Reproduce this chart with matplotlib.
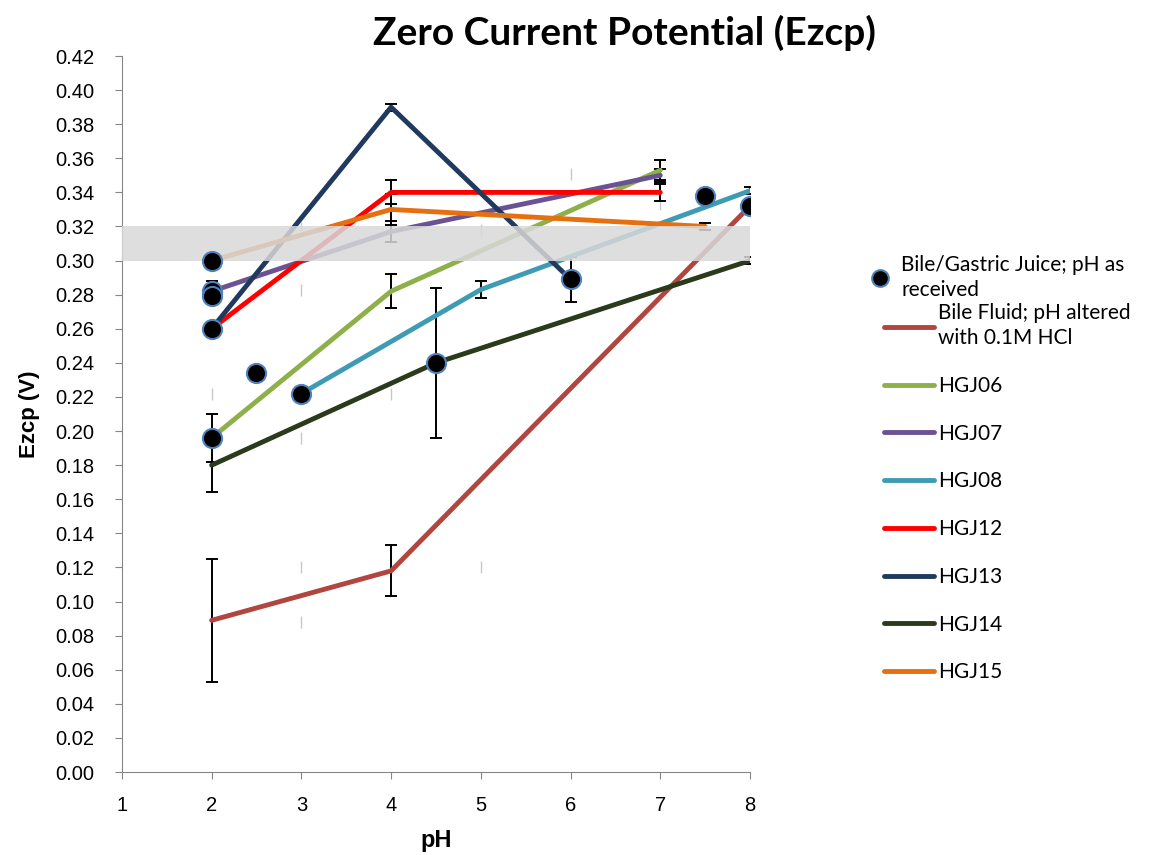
import matplotlib
matplotlib.use("Agg")
import matplotlib.pyplot as plt
from matplotlib.lines import Line2D

# Bile/Gastric Juice, pH as received (scatter points)
juice_ph = [2, 2, 2, 2, 2, 2.5, 3, 4.5, 6, 7.5, 8]
juice_e = [0.300, 0.282, 0.279, 0.260, 0.196, 0.234, 0.222, 0.240, 0.289, 0.338, 0.332]

# line series: pH, Ezcp, error
bile_ph = [2, 4, 8]
bile_e = [0.089, 0.118, 0.332]
bile_err = [0.036, 0.015, 0.0]

hgj06_ph = [2, 4, 7]
hgj06_e = [0.196, 0.282, 0.353]
hgj06_err = [0.014, 0.010, 0.006]

hgj07_ph = [2, 4, 7]
hgj07_e = [0.282, 0.317, 0.350]
hgj07_err = [0.006, 0.006, 0.004]

hgj08_ph = [3, 5, 8]
hgj08_e = [0.222, 0.283, 0.341]
hgj08_err = [0.004, 0.005, 0.002]

hgj12_ph = [2, 4, 7]
hgj12_e = [0.260, 0.340, 0.340]
hgj12_err = [0.0, 0.007, 0.005]

hgj13_ph = [2, 4, 6]
hgj13_e = [0.260, 0.390, 0.289]
hgj13_err = [0.0, 0.002, 0.013]

hgj14_ph = [2, 4.5, 8]
hgj14_e = [0.180, 0.240, 0.300]
hgj14_err = [0.016, 0.044, 0.002]

hgj15_ph = [2, 4, 7.5]
hgj15_e = [0.300, 0.330, 0.320]
hgj15_err = [0.0, 0.009, 0.002]

# faint grey tick marks left in the original chart
faint_ph = [3, 3, 2, 4, 3, 3, 3, 5, 5, 6, 7]
faint_e = [0.319, 0.283, 0.222, 0.222, 0.196, 0.120, 0.088, 0.120, 0.318, 0.351, 0.333]

band = (0.30, 0.32)

series = [
    ("Bile Fluid; pH altered\nwith 0.1M HCl", bile_ph, bile_e, bile_err, "#B0463F"),
    ("HGJ06", hgj06_ph, hgj06_e, hgj06_err, "#8DB04A"),
    ("HGJ07", hgj07_ph, hgj07_e, hgj07_err, "#6B5293"),
    ("HGJ08", hgj08_ph, hgj08_e, hgj08_err, "#3E9BB3"),
    ("HGJ12", hgj12_ph, hgj12_e, hgj12_err, "#FF0000"),
    ("HGJ13", hgj13_ph, hgj13_e, hgj13_err, "#1F3A5E"),
    ("HGJ14", hgj14_ph, hgj14_e, hgj14_err, "#2B3A1B"),
    ("HGJ15", hgj15_ph, hgj15_e, hgj15_err, "#E66F10"),
]

calibri = ["Lato", "DejaVu Sans"]
arial = ["Liberation Sans", "DejaVu Sans"]

fig = plt.figure(figsize=(11.61, 8.55), dpi=100)
ax = fig.add_axes([0.105, 0.097, 0.541, 0.8375])

handles = []
for name, x, y, err, col in series:
    ax.plot(x, y, color=col, lw=3.5, solid_capstyle="round", zorder=3)
    ax.errorbar(x, y, yerr=err, fmt="none", ecolor="black", elinewidth=1.4,
                capsize=4.5, capthick=1.4, zorder=2)
    handles.append(Line2D([], [], color=col, lw=3.5, solid_capstyle="round"))

ax.plot(faint_ph, faint_e, ls="none", marker="|", ms=9, mew=1, color="#C8C8C8", zorder=1)

ax.axhspan(band[0], band[1], color="#D9D9D9", alpha=0.85, lw=0, zorder=4)

ax.scatter(juice_ph, juice_e, s=190, c="black", edgecolors="#4F81BD", linewidths=1.5, zorder=5)

ax.set_xlim(1, 8)
ax.set_ylim(0, 0.42)
ax.set_xticks(range(1, 9))
ax.set_yticks([i * 0.02 for i in range(22)])
ax.set_yticklabels([f"{i * 0.02:.2f}" for i in range(22)])
for s in ["top", "right"]:
    ax.spines[s].set_visible(False)
for s in ["left", "bottom"]:
    ax.spines[s].set_color("#868686")
ax.tick_params(direction="out", length=5, color="#868686", labelsize=14.5)
for lab in ax.get_xticklabels() + ax.get_yticklabels():
    lab.set_family(arial)
ax.tick_params(axis="x", pad=12)
ax.tick_params(axis="y", pad=15)

ax.set_xlabel("pH", fontsize=17, fontweight="bold", family=arial, labelpad=10)
ax.set_ylabel("Ezcp (V)", fontsize=16, fontweight="bold", family=arial, labelpad=11)
fig.text(0.538, 0.962, "Zero Current Potential (Ezcp)", fontsize=28, fontweight="bold",
         family=calibri, ha="center", va="center")

h0 = Line2D([], [], ls="none", marker="o", ms=12, mfc="black", mec="#4F81BD", mew=1.5)
leg1 = fig.legend([h0], ["Bile/Gastric Juice; pH as\nreceived"], loc="upper left",
                  bbox_to_anchor=(0.733, 0.724), frameon=False, handlelength=1.0,
                  handletextpad=0.5, prop={"family": calibri, "size": 15})
leg2 = fig.legend(handles, [s[0] for s in series], loc="upper left",
                  bbox_to_anchor=(0.745, 0.667), frameon=False, handlelength=2.4,
                  handletextpad=0.2, labelspacing=1.33, prop={"family": calibri, "size": 15})
for leg in (leg1, leg2):
    for t in leg.get_texts():
        t.set_linespacing(1.3)

fig.savefig("out.png", dpi=100)
